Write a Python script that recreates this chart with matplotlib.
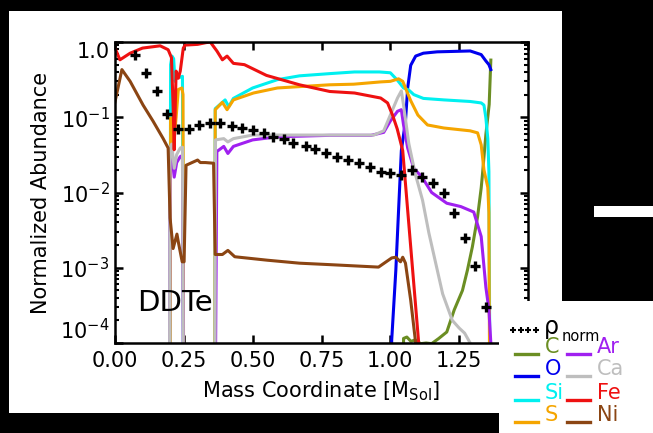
import numpy as np
import matplotlib.pyplot as plt
from matplotlib.patches import Rectangle
from matplotlib.lines import Line2D

# normalized abundances vs. mass coordinate (DDTe model)
rho_x = [0.073, 0.113, 0.153, 0.19, 0.23, 0.27, 0.306, 0.346, 0.382, 0.426, 0.462, 0.502,
         0.54, 0.575, 0.612, 0.648, 0.692, 0.728, 0.768, 0.808, 0.845, 0.885, 0.925, 0.965,
         1.0, 1.04, 1.078, 1.115, 1.154, 1.194, 1.23, 1.27, 1.307, 1.347]
rho_y = [0.68, 0.39, 0.22, 0.11, 0.069, 0.069, 0.079, 0.083, 0.085, 0.076, 0.072, 0.068,
         0.062, 0.055, 0.051, 0.046, 0.042, 0.038, 0.034, 0.030, 0.027, 0.025, 0.022, 0.019,
         0.018, 0.017, 0.020, 0.016, 0.0135, 0.010, 0.0054, 0.0025, 0.00105, 0.0003]

c_x = [1.045, 1.048, 1.06, 1.075, 1.09, 1.11, 1.13, 1.15, 1.176, 1.205, 1.232, 1.262, 1.28,
       1.298, 1.317, 1.33, 1.335, 1.347, 1.359, 1.365]
c_y = [1e-6, 1.15e-4, 1.2e-4, 1.05e-4, 1.1e-4, 0.98e-4, 1.0e-4, 0.98e-4, 1.15e-4, 1.4e-4,
       2.75e-4, 5e-4, 9.3e-4, 0.0019, 0.0048, 0.0115, 0.018, 0.059, 0.148, 0.575]

o_x = [0.995, 1.005, 1.02, 1.03, 1.04, 1.055, 1.063, 1.074, 1.092, 1.12, 1.17, 1.29, 1.33,
       1.347, 1.358, 1.365]
o_y = [1e-6, 1.1e-4, 9.3e-4, 0.0059, 0.036, 0.089, 0.245, 0.49, 0.65, 0.71, 0.74, 0.76, 0.68,
       0.56, 0.50, 0.43]

si_x = [0.198, 0.202, 0.207, 0.213, 0.218, 0.225, 0.237, 0.245, 0.25,
        0.362, 0.364, 0.40, 0.413, 0.43, 0.50, 0.59, 0.67, 0.78, 0.87, 0.96, 1.0, 1.026,
        1.048, 1.067, 1.085, 1.12, 1.195, 1.29, 1.33, 1.34, 1.347, 1.354, 1.358, 1.361, 1.363]
si_y = [1e-6, 0.5, 0.65, 0.6, 0.30, 0.36, 0.34, 0.35, 1e-6,
        1e-6, 0.13, 0.17, 0.138, 0.178, 0.245, 0.316, 0.355, 0.38, 0.40, 0.40, 0.39, 0.31,
        0.245, 0.23, 0.20, 0.178, 0.17, 0.162, 0.155, 0.145, 0.098, 0.052, 0.019, 1e-4, 1e-6]

s_x = [0.199, 0.202, 0.212, 0.222, 0.23, 0.243, 0.247, 0.25,
       0.362, 0.364, 0.39, 0.407, 0.43, 0.503, 0.59, 0.78, 0.867, 0.965, 1.0, 1.03, 1.045,
       1.055, 1.074, 1.1, 1.135, 1.194, 1.29, 1.317, 1.33, 1.34, 1.354, 1.358, 1.36, 1.362]
s_y = [1e-6, 0.098, 0.039, 0.10, 0.234, 0.245, 0.2, 1e-6,
       1e-6, 0.126, 0.158, 0.126, 0.17, 0.21, 0.245, 0.27, 0.275, 0.295, 0.30, 0.324, 0.30,
       0.245, 0.166, 0.107, 0.079, 0.072, 0.066, 0.062, 0.043, 0.02, 0.0117, 0.0054, 1e-4, 1e-6]

ar_x = [0.197, 0.2, 0.206, 0.215, 0.224, 0.237, 0.245, 0.25,
        0.362, 0.37, 0.395, 0.41, 0.43, 0.5, 0.59, 0.78, 0.93, 0.976, 1.0, 1.026, 1.04, 1.048,
        1.063, 1.085, 1.115, 1.15, 1.205, 1.256, 1.303, 1.33, 1.347, 1.358, 1.365, 1.368]
ar_y = [1e-6, 0.03, 0.033, 0.016, 0.025, 0.03, 0.031, 1e-6,
        1e-6, 0.035, 0.041, 0.033, 0.041, 0.05, 0.055, 0.0575, 0.0575, 0.063, 0.089, 0.12,
        0.126, 0.079, 0.039, 0.021, 0.016, 0.010, 0.0072, 0.0065, 0.0055, 0.0026, 0.00055,
        0.00028, 1e-4, 1e-6]

ca_x = [0.197, 0.2, 0.206, 0.215, 0.224, 0.237, 0.245, 0.25,
        0.362, 0.365, 0.395, 0.41, 0.43, 0.5, 0.94, 0.976, 1.0, 1.026, 1.04, 1.048, 1.067,
        1.09, 1.117, 1.14, 1.19, 1.225, 1.25, 1.27, 1.29, 1.3]
ca_y = [1e-6, 0.040, 0.044, 0.021, 0.032, 0.039, 0.04, 1e-6,
        1e-6, 0.05, 0.052, 0.047, 0.052, 0.058, 0.058, 0.066, 0.107, 0.18, 0.224, 0.145, 0.045,
        0.018, 0.0079, 0.0029, 0.00045, 0.0002, 0.000158, 0.000135, 1e-4, 1e-6]

fe_x = [0.0, 0.018, 0.055, 0.10, 0.164, 0.193, 0.205, 0.211, 0.215, 0.222, 0.23, 0.237,
        0.248, 0.255, 0.30, 0.33, 0.346, 0.37, 0.39, 0.407, 0.43, 0.47, 0.55, 0.67, 0.78,
        0.87, 0.965, 0.99, 1.008, 1.025, 1.045, 1.103, 1.11]
fe_y = [0.83, 0.58, 0.71, 0.83, 0.89, 0.79, 0.62, 0.145, 0.037, 0.41, 0.33, 0.41,
        0.83, 0.91, 0.93, 0.98, 1.0, 0.76, 0.58, 0.65, 0.52, 0.50, 0.36, 0.27, 0.22,
        0.21, 0.18, 0.155, 0.107, 0.07, 0.036, 1e-4, 1e-6]

ni_x = [0.0, 0.025, 0.055, 0.102, 0.138, 0.175, 0.193, 0.197, 0.2, 0.211, 0.225, 0.23,
        0.244, 0.251, 0.258, 0.30, 0.31, 0.328, 0.358, 0.364, 0.39, 0.41, 0.435, 0.553,
        0.67, 0.78, 0.957, 1.005, 1.02, 1.037, 1.045, 1.055, 1.074, 1.092, 1.1]
ni_y = [0.16, 0.43, 0.30, 0.145, 0.089, 0.052, 0.039, 0.0115, 0.0046, 0.0018, 0.0028, 0.0022,
        0.0012, 0.0012, 0.023, 0.027, 0.025, 0.025, 0.0245, 0.0015, 0.0015, 0.0017, 0.0014,
        0.00126, 0.00115, 0.0011, 0.00102, 0.00135, 0.00138, 0.0012, 0.00138, 0.00115,
        0.00037, 1e-4, 1e-6]

species = ['C', 'O', 'Si', 'S', 'Ar', 'Ca', 'Fe', 'Ni']
xs = [c_x, o_x, si_x, s_x, ar_x, ca_x, fe_x, ni_x]
ys = [c_y, o_y, si_y, s_y, ar_y, ca_y, fe_y, ni_y]
colors = ['#6b8e23', '#0000ee', '#00f0f0', '#f5a500', '#a020f0', '#bebebe', '#ee1111', '#8b4513']

W, H = 653, 433


def fx(px):
    return px / W


def fy(py):
    return 1 - py / H


fig = plt.figure(figsize=(W / 100, H / 100), dpi=100, facecolor='black')

# white panels on the black page
fig.add_artist(Rectangle((fx(9), fy(413)), (562 - 9) / W, (413 - 11) / H,
                         transform=fig.transFigure, facecolor='white', edgecolor='none', zorder=-1))
fig.add_artist(Rectangle((fx(594), fy(217)), (653 - 594) / W, (217 - 206) / H,
                         transform=fig.transFigure, facecolor='white', edgecolor='none', zorder=-1))

ax = fig.add_axes([fx(115), fy(343), (528 - 115) / W, (343 - 42) / H])
for xx, yy, col in zip(xs, ys, colors):
    ax.plot(xx, yy, color=col, lw=2.2)
ax.plot(rho_x, rho_y, ls='none', marker='+', ms=7, mew=2.4, color='black')

ax.set_yscale('log')
ax.set_xlim(0, 1.5)
ax.set_ylim(1e-4, 1.0)
ax.set_xticks(np.arange(0, 1.51, 0.25))
ax.set_xticklabels(['%.2f' % v for v in np.arange(0, 1.51, 0.25)])
ax.set_yticks([1e-4, 1e-3, 1e-2, 1e-1, 1.0])
ax.set_yticklabels([r'$10^{-4}$', r'$10^{-3}$', r'$10^{-2}$', r'$10^{-1}$', '1.0'])
ax.tick_params(which='both', direction='in', top=True, right=True, labelsize=15)
ax.tick_params(which='major', length=6, width=1.8)
ax.tick_params(which='minor', length=3.2, width=1.5)
ax.tick_params(axis='x', pad=6)
ax.tick_params(axis='y', pad=4)
for sp in ax.spines.values():
    sp.set_linewidth(1.8)

# end labels sit inside the axis range
ylabels = ax.get_yticklabels()
ylabels[0].set_va('bottom')
ylabels[-1].set_va('top')

ax.text(0.053, 0.133, 'DDTe', transform=ax.transAxes, fontsize=21, ha='left', va='center')

fig.text(fx(41), fy(193), 'Normalized Abundance', rotation=90, fontsize=15, ha='center', va='center')
fig.text(fx(321), fy(391), r'Mass Coordinate [M$_{\mathregular{Sol}}$]', fontsize=15,
         ha='center', va='center')

# legend box, drawn over the lower right corner
fig.add_artist(Rectangle((fx(499), 0), (653 - 499) / W, (433 - 301) / H,
                         transform=fig.transFigure, facecolor='white', edgecolor='none', zorder=2))
fig.add_artist(Line2D([fx(513), fx(520.5), fx(528), fx(535.5)], [fy(330)] * 4, ls='none',
                      marker='+', ms=4, mew=1.5, color='black', transform=fig.transFigure, zorder=3))
fig.text(fx(544), fy(334), 'ρ', fontsize=17, ha='left', va='baseline', zorder=3)
fig.text(fx(562), fy(341), 'norm', fontsize=10.5, ha='left', va='baseline', zorder=3)

row_y = [354, 376, 400, 422]
for i, (name, col) in enumerate(zip(species, colors)):
    col_i, row_i = divmod(i, 4)
    x0 = 515 if col_i == 0 else 567
    fig.add_artist(Line2D([fx(x0), fx(x0 + 23)], [fy(row_y[row_i])] * 2, color=col, lw=2.4,
                          transform=fig.transFigure, zorder=3))
    fig.text(fx(x0 + 30), fy(row_y[row_i] - 1), name, color=col, fontsize=15,
             ha='left', va='baseline', zorder=3)

fig.savefig('out.png', dpi=100, facecolor='black')
